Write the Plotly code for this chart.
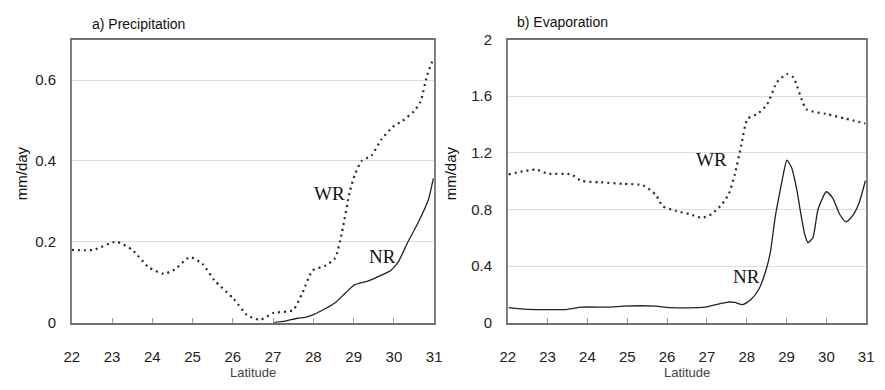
import plotly.graph_objects as go

# ---- data: a) Precipitation ----
p_wr_lat = [22.0, 22.53, 23.1, 23.5, 23.91, 24.28, 24.56, 24.93, 25.25, 25.54, 26.02, 26.35, 26.68,
            27.0, 27.49, 27.73, 27.98, 28.3, 28.54, 28.71, 28.91, 29.03, 29.2, 29.44, 29.68, 29.97,
            30.21, 30.5, 30.66, 30.82, 30.98]
p_wr_val = [0.18, 0.18, 0.20, 0.18, 0.137, 0.121, 0.132, 0.162, 0.145, 0.105, 0.059, 0.019, 0.007,
            0.024, 0.031, 0.074, 0.129, 0.141, 0.16, 0.224, 0.326, 0.366, 0.40, 0.413, 0.452, 0.484,
            0.499, 0.523, 0.546, 0.61, 0.653]
p_nr_lat = [27.0, 27.3, 27.6, 27.8, 28.0, 28.3, 28.55, 28.8, 29.03, 29.35, 29.68, 29.92, 30.1, 30.35,
            30.6, 30.85, 30.98]
p_nr_val = [0.0, 0.004, 0.011, 0.013, 0.02, 0.035, 0.05, 0.074, 0.094, 0.103, 0.117, 0.129, 0.149, 0.20,
            0.247, 0.302, 0.357]

# ---- data: b) Evaporation ----
e_wr_lat = [22.02, 22.7, 23.0, 23.59, 23.84, 24.33, 24.9, 25.4, 25.72, 25.89, 26.22, 26.55, 26.88,
            27.12, 27.37, 27.55, 27.7, 27.86, 28.02, 28.27, 28.51, 28.76, 29.01, 29.17, 29.5, 29.99,
            30.49, 30.98]
e_wr_val = [1.048, 1.082, 1.053, 1.048, 1.003, 0.992, 0.981, 0.97, 0.902, 0.823, 0.79, 0.768, 0.741,
            0.768, 0.835, 0.91, 1.048, 1.25, 1.44, 1.475, 1.542, 1.699, 1.756, 1.733, 1.508, 1.475,
            1.441, 1.407]
e_nr_lat = [22.02, 22.5, 23.5, 23.84, 24.58, 24.9, 25.72, 26.05, 26.96, 27.29, 27.53, 27.7, 27.9,
            28.1, 28.31, 28.51, 28.6, 28.72, 28.84, 28.92, 29.01, 29.13, 29.26, 29.34, 29.46, 29.54,
            29.66, 29.79, 30.0, 30.16, 30.33, 30.49, 30.66, 30.82, 30.98]
e_nr_val = [0.106, 0.094, 0.094, 0.11, 0.11, 0.117, 0.117, 0.106, 0.11, 0.132, 0.146, 0.143, 0.128,
            0.162, 0.24, 0.397, 0.51, 0.756, 0.936, 1.05, 1.149, 1.093, 0.936, 0.80, 0.62, 0.566,
            0.6, 0.80, 0.925, 0.88, 0.768, 0.712, 0.756, 0.846, 1.003]

x_ticks = list(range(22, 32))
p_ticks = [0, 0.2, 0.4, 0.6]
e_ticks = [0, 0.4, 0.8, 1.2, 1.6, 2]

W, H = 885, 390
SANS = "Liberation Sans, Arial, sans-serif"
SERIF = "Liberation Serif, Times New Roman, serif"

DOT = "2px,4px"
fig = go.Figure()
fig.add_trace(go.Scatter(x=p_wr_lat, y=p_wr_val, mode="lines", line=dict(color="#2a2a2a", width=2.2, dash=DOT, shape="spline", smoothing=0.6), xaxis="x", yaxis="y", showlegend=False))
fig.add_trace(go.Scatter(x=p_nr_lat, y=p_nr_val, mode="lines", line=dict(color="#222", width=1.3, shape="spline", smoothing=0.6), xaxis="x", yaxis="y", showlegend=False))
fig.add_trace(go.Scatter(x=e_wr_lat, y=e_wr_val, mode="lines", line=dict(color="#2a2a2a", width=2.2, dash=DOT, shape="spline", smoothing=0.6), xaxis="x2", yaxis="y2", showlegend=False))
fig.add_trace(go.Scatter(x=e_nr_lat, y=e_nr_val, mode="lines", line=dict(color="#222", width=1.3, shape="spline", smoothing=0.6), xaxis="x2", yaxis="y2", showlegend=False))

def px(xp): return xp / W
def py(yp): return 1 - yp / H

yb, yt = py(328), py(32)
axis_common = dict(showline=True, linecolor="#808080", linewidth=1.5, mirror=True, zeroline=False,
                   tickfont=dict(family=SANS, size=15, color="#222"))
xcommon = dict(axis_common, range=[22, 31], tickvals=x_ticks, ticks="inside", ticklen=5, tickcolor="#999",
               showgrid=False, ticklabelstandoff=20, linecolor="#707070")
fig.update_layout(
    width=W, height=H, margin=dict(l=0, r=0, t=0, b=0),
    paper_bgcolor="white", plot_bgcolor="white",
    xaxis=dict(xcommon, domain=[px(65), px(434)], anchor="y"),
    yaxis=dict(axis_common, domain=[yb, yt], range=[0, 0.7], tickvals=p_ticks, ticktext=["0", "0.2", "0.4", "0.6"],
               showgrid=True, gridcolor="#dcdcdc", gridwidth=1, ticks="", ticklabelstandoff=11, anchor="x"),
    xaxis2=dict(xcommon, domain=[px(509), px(874)], anchor="y2"),
    yaxis2=dict(axis_common, domain=[yb, yt], range=[0, 2], tickvals=e_ticks, ticktext=["0", "0.4", "0.8", "1.2", "1.6", "2"],
                showgrid=True, gridcolor="#dcdcdc", gridwidth=1, ticks="", ticklabelstandoff=11, anchor="x2"),
)

ann = [
    dict(text="a) Precipitation", x=px(84), y=py(16), xanchor="left", font=dict(family=SANS, size=14, color="#111")),
    dict(text="b) Evaporation", x=px(516), y=py(14), xanchor="left", font=dict(family=SANS, size=14, color="#111")),
    dict(text="Latitude", x=px(250), y=py(380), xanchor="center", font=dict(family=SANS, size=13, color="#444")),
    dict(text="Latitude", x=px(692), y=py(380), xanchor="center", font=dict(family=SANS, size=13, color="#444")),
    dict(text="mm/day", x=px(14), y=py(172), textangle=-90, xanchor="center", font=dict(family=SANS, size=15, color="#111")),
    dict(text="mm/day", x=px(451), y=py(172), textangle=-90, xanchor="center", font=dict(family=SANS, size=15, color="#111")),
    dict(text="WR", x=px(327), y=py(193), xanchor="center", font=dict(family=SERIF, size=19, color="#111")),
    dict(text="NR", x=px(381), y=py(259), xanchor="center", font=dict(family=SERIF, size=19, color="#111")),
    dict(text="WR", x=px(716), y=py(157), xanchor="center", font=dict(family=SERIF, size=19, color="#111")),
    dict(text="NR", x=px(752), y=py(280), xanchor="center", font=dict(family=SERIF, size=19, color="#111")),
]
for a in ann:
    a.update(xref="paper", yref="paper", yanchor="middle", showarrow=False)
fig.update_layout(annotations=ann)

fig.write_html("out.html")
